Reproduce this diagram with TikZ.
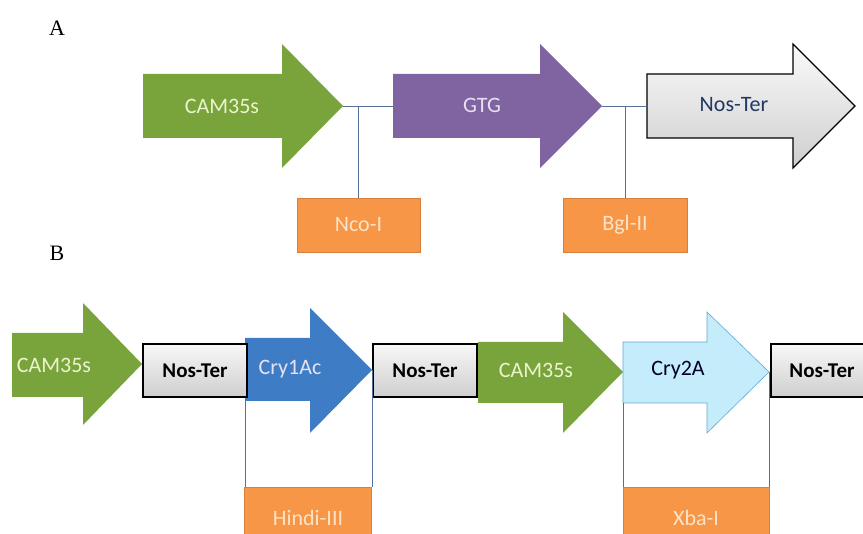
\documentclass[tikz,border=0pt]{standalone}
\usepackage{fontspec}
\setmainfont{Liberation Serif}
\newfontfamily\calib{Carlito}
\usepackage{tikz}
\usetikzlibrary{calc}
\definecolor{camgreen}{RGB}{121,164,60}
\definecolor{gtgpurple}{RGB}{128,100,162}
\definecolor{siteorange}{RGB}{247,150,70}
\definecolor{siteedge}{RGB}{214,128,60}
\definecolor{cryblue}{RGB}{62,124,198}
\definecolor{crylight}{RGB}{196,236,250}
\definecolor{cryedge}{RGB}{95,170,215}
\definecolor{linkblue}{RGB}{84,112,150}
\definecolor{camtext}{RGB}{236,244,206}
\definecolor{gtgtext}{RGB}{232,226,240}
\definecolor{sitetext}{RGB}{253,228,200}
\definecolor{navytext}{RGB}{31,56,100}

\begin{document}
\begin{tikzpicture}[x=1pt,y=-1pt,
	gene/.style={font=\calib\fontsize{22}{24}\selectfont,inner sep=0pt},
	site/.style={draw=siteedge,fill=siteorange,line width=0.8pt,outer sep=0pt,
		text=sitetext,font=\calib\fontsize{22}{24}\selectfont},
	ter/.style={draw=black,line width=1.2pt,top color=gray!6,bottom color=gray!38,
		outer sep=0pt,minimum width=104,minimum height=53,
		font=\calib\bfseries\fontsize{21}{23}\selectfont},
	link/.style={linkblue,line width=0.7pt}]
%					Cadre :
	\useasboundingbox (0,0) rectangle (863,534);
	\clip (0,0) rectangle (863,534);
%					Partie A :
	\node[font=\fontsize{22}{24}\selectfont] (labA) at (57,28) {A};
	\fill[camgreen] (143,74) -- (282,74) -- (282,44) -- (343,106) -- (282,168) -- (282,138) -- (143,138) -- cycle;
	\coordinate (camAtip) at (343,106);
	\fill[gtgpurple] (393,74) -- (540,74) -- (540,44) -- (602,106) -- (540,168) -- (540,138) -- (393,138) -- cycle;
	\coordinate (gtgAin) at (393,106);
	\coordinate (gtgAtip) at (602,106);
	\draw[line width=1.2pt,top color=gray!4,bottom color=gray!38,line join=miter]
		(647,74) -- (793,74) -- (793,44) -- (855,106) -- (793,168) -- (793,138) -- (647,138) -- cycle;
	\coordinate (terAin) at (647,106);
	\node[gene,text=camtext] (camA) at (222,106) {CAM35s};
	\node[gene,text=gtgtext] (gtgA) at (482,105) {GTG};
	\node[gene,text=navytext] (terA) at (734,105) {Nos-Ter};
%					Sites de restriction A :
	\node[site,minimum width=123,minimum height=54] (nco) at (358.5,225) {Nco-I};
	\node[site,minimum width=124,minimum height=54] (bgl) at (625,225) {Bgl-II};
	\draw[link] (camAtip) -- (gtgAin);
	\draw[link] (gtgAtip) -- (terAin);
	\draw[link] (nco.north) -- (nco.north |- camAtip);
	\draw[link] (bgl.north) -- (bgl.north |- gtgAtip);
%					Partie B :
	\node[font=\fontsize{22}{24}\selectfont] (labB) at (57,253) {B};
	\fill[camgreen] (12,333) -- (83,333) -- (83,303) -- (142,364) -- (83,425) -- (83,397) -- (12,397) -- cycle;
	\fill[cryblue] (245,338) -- (310,338) -- (310,308) -- (372,370) -- (310,433) -- (310,401) -- (245,401) -- cycle;
	\coordinate (cryAtail) at (245,401);
	\coordinate (cryAtip) at (372,370);
	\fill[camgreen] (478,342) -- (563,342) -- (563,312) -- (623,372) -- (563,433) -- (563,403) -- (478,403) -- cycle;
	\draw[cryedge,fill=crylight,line width=0.6pt]
		(623,342) -- (707,342) -- (707,312) -- (769,372) -- (707,433) -- (707,403) -- (623,403) -- cycle;
	\coordinate (cryBtail) at (623,403);
	\coordinate (cryBtip) at (769,372);
	\node[ter] (terB1) at (195,370.5) {Nos-Ter};
	\node[ter] (terB2) at (425,370.5) {Nos-Ter};
	\node[ter,minimum width=102] (terB3) at (822,370.5) {Nos-Ter};
	\node[gene,text=camtext] (camB1) at (54,365) {CAM35s};
	\node[gene,text=gtgtext] (cryAc) at (290,369) {Cry1Ac};
	\node[gene,text=camtext] (camB2) at (536,370) {CAM35s};
	\node[gene,text=black!85!blue] (cryB) at (678,370) {Cry2A};
%					Sites de restriction B :
	\node[site,minimum width=127,minimum height=62] (hindi) at (308,518) {Hindi-III};
	\node[site,minimum width=146,minimum height=62] (xba) at (696,518) {Xba-I};
	\draw[link] (cryAtail) -- (cryAtail |- hindi.north);
	\draw[link] (cryAtip) -- (cryAtip |- hindi.north);
	\draw[link] (cryBtail) -- (cryBtail |- xba.north);
	\draw[link] (cryBtip) -- (cryBtip |- xba.north);
\end{tikzpicture}
\end{document}
